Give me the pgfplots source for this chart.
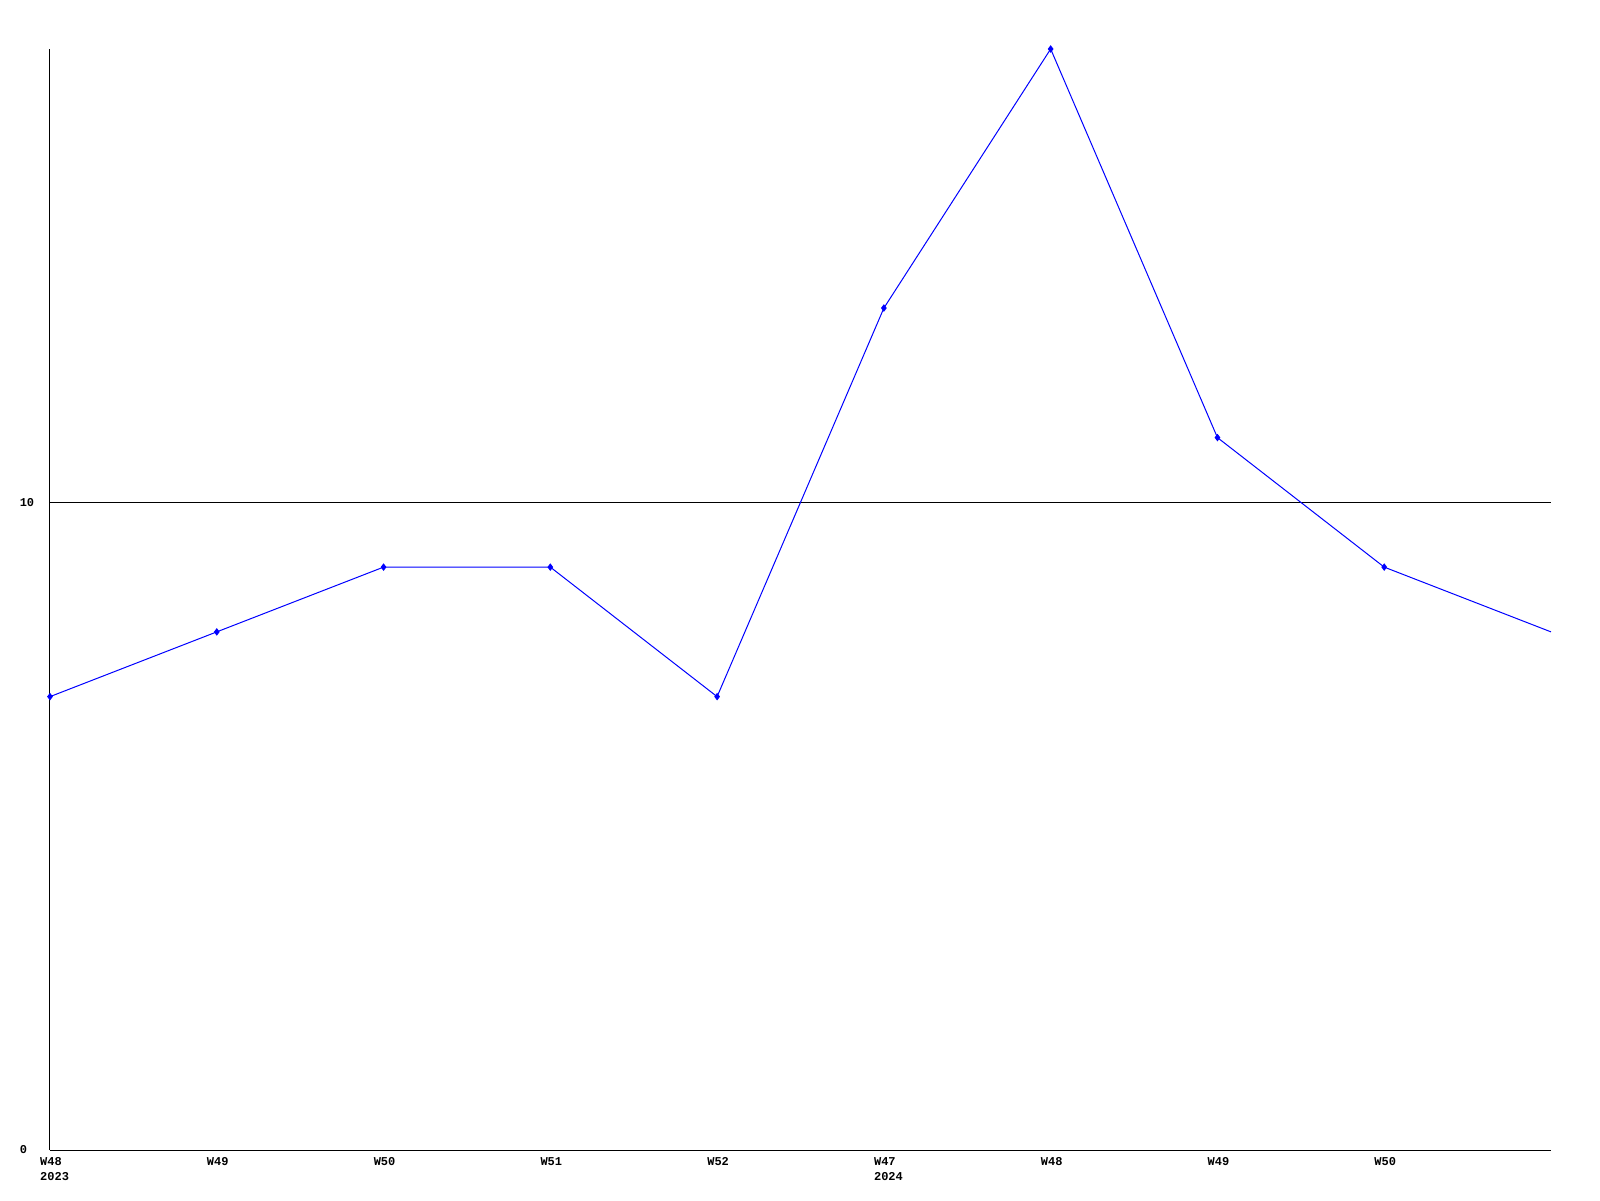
\documentclass[border=0pt]{standalone}
\usepackage{pgfplots}
\pgfplotsset{compat=1.18}
\usepackage{fontspec}
\setmainfont{Liberation Mono}[BoldFont={* Bold}]
\definecolor{lineblue}{RGB}{0,0,255}
\begin{document}
\begin{tikzpicture}
\useasboundingbox (-25pt,-25pt) rectangle (775pt,575pt);
\begin{axis}[
  at={(0,0)}, anchor=south west,
  scale only axis,
  width=750.5pt, height=550.5pt,
  xmin=0, xmax=9, ymin=0, ymax=17,
  axis lines=left,
  axis line style={-, line width=0.5pt},
  xtick={0,...,8},
  xticklabels={{W48\\2023},W49,W50,W51,W52,{W47\\2024},W48,W49,W50},
  ytick={0,10},
  major tick length=0pt,
  ymajorgrids,
  grid style={black, solid, line width=0.5pt},
  tick label style={font=\fontsize{6}{7.6}\selectfont\bfseries},
  xticklabel style={anchor=north west, align=left, inner sep=0pt, xshift=-5.1pt, yshift=-3.5pt},
  yticklabel style={anchor=west, inner sep=0pt, xshift=-15.3pt},
  /pgf/number format/assume math mode=true,
  clip=false,
]
\addplot[lineblue, line width=0.5pt, mark=diamond*, mark size=1.5pt, mark indices={1,...,9}, mark options={lineblue}]
  coordinates {(0,7) (1,8) (2,9) (3,9) (4,7) (5,13) (6,17) (7,11) (8,9) (9,8)};
\end{axis}
\end{tikzpicture}
\end{document}
